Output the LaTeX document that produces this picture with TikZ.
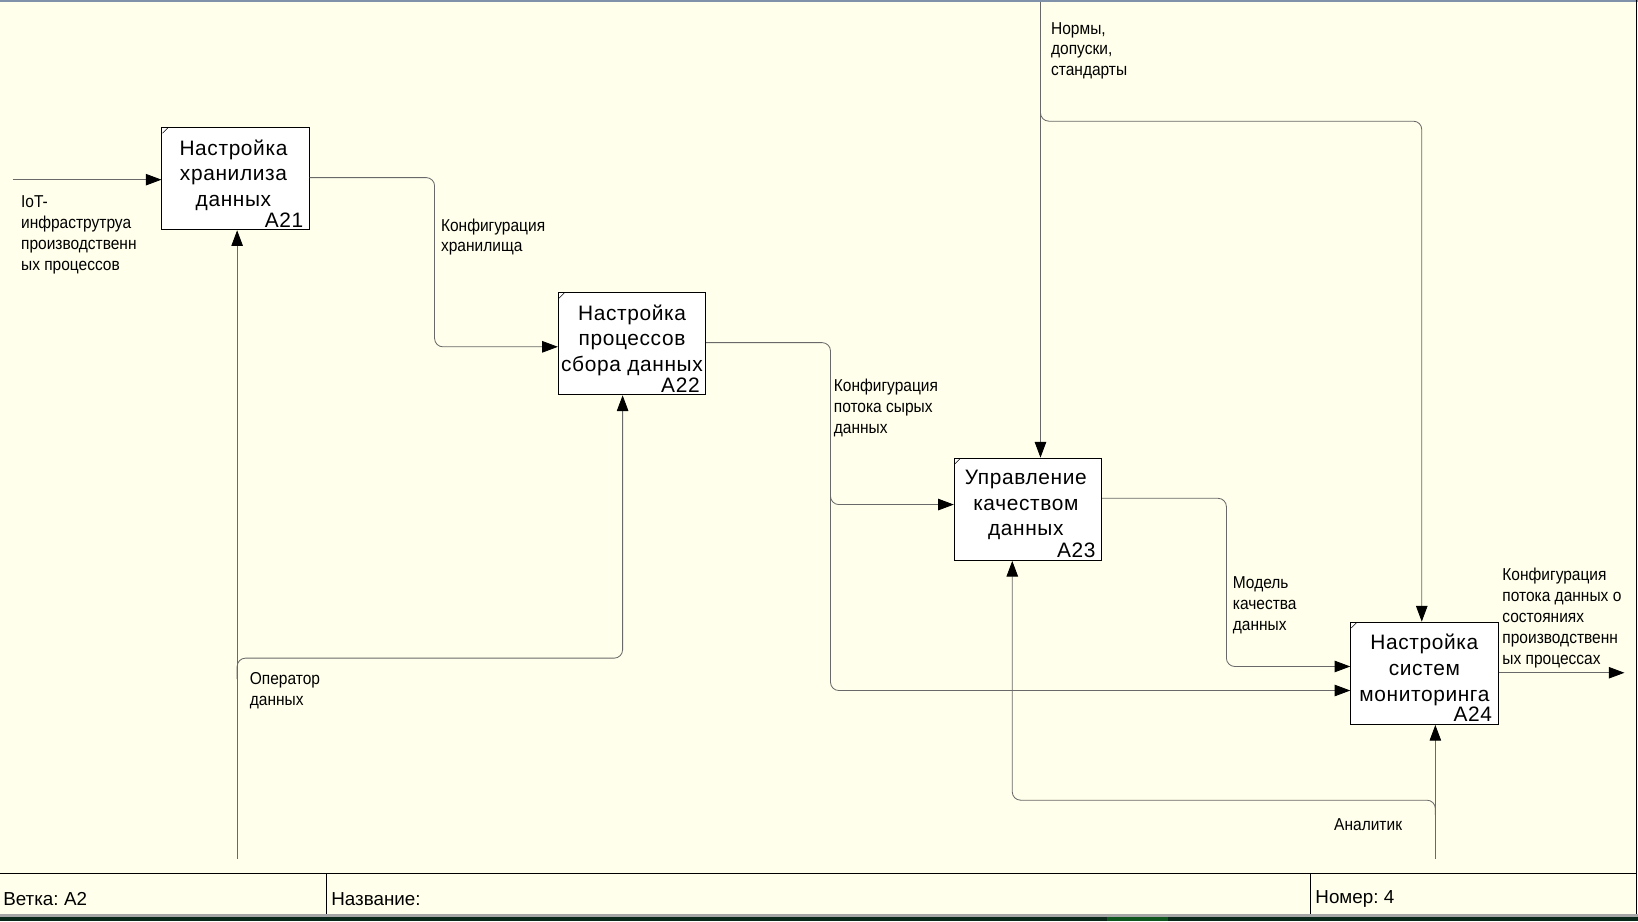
\documentclass[tikz,border=0pt]{standalone}
\usepackage{fontspec}
\setmainfont{Liberation Sans}
\newfontfamily\labfam[FakeStretch=0.9]{Liberation Sans}
\newfontfamily\boxfam[LetterSpace=3]{Liberation Sans}
\newfontfamily\footfam[WordSpace=0.7]{Liberation Sans}
\usetikzlibrary{arrows.meta,calc}
\newcommand\labfont{\labfam\fontsize{16.5}{20}\selectfont}
\newcommand\boxfont{\boxfam\fontsize{20}{24.5}\selectfont}
\newcommand\footfont{\footfam\fontsize{18}{22}\selectfont}
\definecolor{bg}{RGB}{255,255,235}
\definecolor{conngray}{RGB}{105,105,105}
\definecolor{topline}{RGB}{128,145,170}
\definecolor{darkbar}{RGB}{10,40,25}
\definecolor{brightbar}{RGB}{15,85,30}
\tikzset{
  actbox/.style={draw=black, fill=white, line width=0.9pt, minimum width=141pt, minimum height=98pt, inner sep=0pt},
  btext/.style={anchor=north, inner sep=0pt, align=center, font=\boxfont, execute at begin node=\strut},
  bnum/.style={anchor=base east, inner sep=0pt, font=\boxfont},
  lab/.style={anchor=north west, inner sep=0pt, align=left, font=\labfont, execute at begin node=\strut},
  foot/.style={anchor=west, inner sep=0pt, font=\footfont},
  conn/.style={draw=conngray, line width=0.8pt, rounded corners=8pt},
  arr/.style={conn, -{Triangle[length=15pt,width=11pt,color=black,fill=black]}},
}
\begin{document}
\begin{tikzpicture}[x=1pt,y=-1pt]
\useasboundingbox (0,0) rectangle (1568,882);
\fill[bg] (0,0) rectangle (1568,875);
\fill[gray!70] (0,875) rectangle (1568,878);
\fill[darkbar] (0,878) rectangle (1568,882);
\fill[brightbar] (1060,878) rectangle (1118,882);
\draw[topline, line width=1.5pt] (0,0.75) -- (1568,0.75);
\draw[black, line width=1.2pt] (1566.5,0) -- (1566.5,875);
% footer
\draw[black, line width=1.2pt] (0,836) -- (1566.5,836);
\draw[black, line width=0.8pt] (312,836) -- (312,875);
\draw[black, line width=0.8pt] (1254,836) -- (1254,875);
\node[foot] (fvetka) at (3,861) {Ветка: A2};
\node[foot] (fname) at (317,861) {Название:};
\node[foot] (fnum) at (1259,861) {Номер: 4};

% boxes
\node[actbox] (a21) at (225.5,171) {};
\node[actbox] (a22) at (605,329) {};
\node[actbox] (a23) at (984,487.5) {};
\node[actbox] (a24) at (1363.5,644.5) {};
\foreach \b in {a21,a22,a23,a24}{
  \draw[black, line width=0.5pt] ($(\b.north west)+(1,6)$) -- ($(\b.north west)+(6,1)$);
}
\node[btext] (t21) at ($(a21.north)+(-2,12)$) {Настройка\\хранилиза\\данных};
\node[btext] (t22) at ($(a22.north)+(0,12)$) {Настройка\\процессов\\сбора данных};
\node[btext] (t23) at ($(a23.north)+(-2,12)$) {Управление\\качеством\\данных};
\node[btext] (t24) at ($(a24.north)+(0,12)$) {Настройка\\систем\\мониторинга};
\node[bnum] (n21) at ($(a21.south east)+(-6,-3)$) {A21};
\node[bnum] (n22) at ($(a22.south east)+(-6,-3)$) {A22};
\node[bnum] (n23) at ($(a23.south east)+(-6,-3)$) {A23};
\node[bnum] (n24) at ($(a24.south east)+(-6,-3)$) {A24};

% free ends
\coordinate (iotin) at (12,172);
\coordinate (opbot) at (227,822);
\coordinate (ntop) at (996,1.5);
\coordinate (anbot) at (1374,822);
\coordinate (outend) at (1555,644);

% IoT input
\draw[arr] (iotin) -- (iotin -| a21.west);
% A21 -> A22
\draw[arr] (a21.east |- 0,170) -- (416,170) -- (416,332) -- (a22.west |- 0,332);
% Operator
\draw[arr] (opbot) -- (opbot |- a21.south);
\draw[arr] (227,650) -- (227,630) -- (596,630) -- (596,0 |- a22.south);
% A22 -> A23, A24
\draw[arr] (a22.east |- 0,328) -- (795,328) -- (795,483) -- (a23.west |- 0,483);
\draw[arr] (795,470) -- (795,661) -- (a24.west |- 0,661);
% Norms
\draw[arr] (ntop) -- (ntop |- a23.north);
\draw[arr] (996,100) -- (996,116) -- (1361,116) -- (1361,0 |- a24.north);
% A23 -> A24
\draw[arr] (a23.east |- 0,477) -- (1174,477) -- (1174,638) -- (a24.west |- 0,638);
% A24 output
\draw[arr] (a24.east |- outend) -- (outend);
% Analyst
\draw[arr] (anbot) -- (anbot |- a24.south);
\draw[arr] (1374,780) -- (1374,766) -- (969,766) -- (969,0 |- a23.south);

% labels
\node[lab] (liot) at (20,187) {IoT-\\инфраструтруа\\производственн\\ых процессов};
\node[lab] (lkh) at (422,209) {Конфигурация\\хранилища};
\node[lab] (lop) at (239,644) {Оператор\\данных};
\node[lab] (lraw) at (798,363) {Конфигурация\\потока сырых\\данных};
\node[lab] (lnorm) at (1006,21) {Нормы,\\допуски,\\стандарты};
\node[lab] (lmod) at (1180,552) {Модель\\качества\\данных};
\node[lab] (lout) at (1438,544) {Конфигурация\\потока данных о\\состояниях\\производственн\\ых процессах};
\node[lab] (lan) at (1277,781) {Аналитик};
\end{tikzpicture}
\end{document}
